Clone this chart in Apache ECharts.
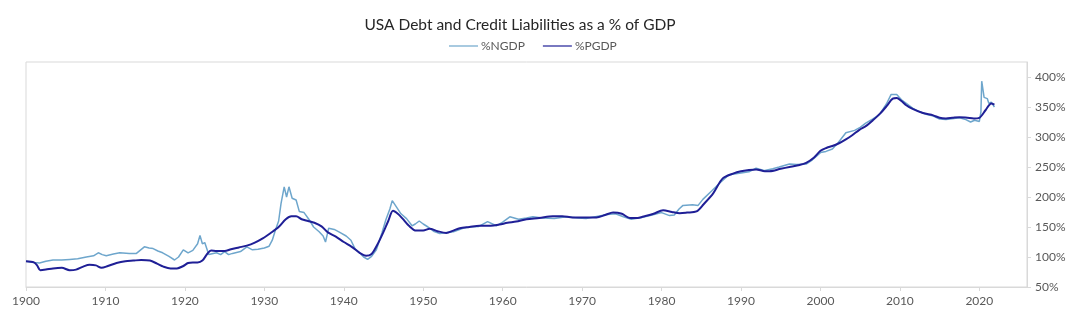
<!DOCTYPE html>
<html>
<head>
<meta charset="utf-8">
<title>USA Debt and Credit Liabilities as a % of GDP</title>
<script src="https://cdn.jsdelivr.net/npm/echarts@6/dist/echarts.min.js"></script>
<style>
  html, body { margin: 0; padding: 0; background: #fff; }
  #chart { width: 1080px; height: 330px; }
</style>
</head>
<body>
<div id="chart"></div>
<script>
// Total debt and credit liabilities relative to nominal GDP (%NGDP)
const ngdpYears = [
  1900.0, 1901.0, 1901.7, 1902.5, 1903.4, 1904.5, 1905.5, 1906.5, 1907.6, 1908.5,
  1909.1, 1909.6, 1910.1, 1911.0, 1911.8, 1913.0, 1913.9, 1914.9, 1915.5, 1916.0,
  1916.6, 1917.2, 1918.0, 1918.7, 1919.2, 1919.8, 1920.4, 1921.0, 1921.6, 1921.9,
  1922.2, 1922.5, 1923.0, 1924.0, 1924.5, 1925.0, 1925.5, 1926.0, 1927.0, 1927.8,
  1928.5, 1929.2, 1930.0, 1930.6, 1931.0, 1931.4, 1931.8, 1932.1, 1932.5, 1932.8,
  1933.1, 1933.5, 1934.0, 1934.4, 1935.0, 1935.6, 1936.2, 1936.9, 1937.4, 1937.7,
  1938.1, 1938.8, 1939.5, 1940.3, 1940.9, 1941.4, 1941.9, 1942.5, 1943.0, 1943.5,
  1944.1, 1944.8, 1945.3, 1945.8, 1946.1, 1946.6, 1947.2, 1947.9, 1948.6, 1949.0,
  1949.5, 1950.0, 1950.6, 1951.3, 1952.1, 1953.0, 1953.8, 1955.0, 1955.8, 1957.0,
  1958.1, 1959.2, 1960.0, 1960.9, 1962.0, 1963.0, 1963.8, 1965.0, 1966.5, 1968.0,
  1969.5, 1970.5, 1972.0, 1973.2, 1974.2, 1975.2, 1976.2, 1977.5, 1978.8, 1980.0,
  1981.0, 1981.6, 1982.2, 1982.7, 1983.9, 1984.6, 1985.2, 1986.3, 1987.3, 1988.5,
  1990.0, 1991.0, 1991.9, 1993.0, 1994.0, 1994.8, 1996.1, 1997.0, 1998.2, 1999.0,
  2000.0, 2000.7, 2001.5, 2002.2, 2003.2, 2004.3, 2005.0, 2005.7, 2006.6, 2007.4,
  2008.3, 2008.9, 2009.6, 2010.2, 2010.8, 2011.6, 2012.5, 2013.3, 2014.2, 2015.0,
  2015.8, 2016.8, 2017.5, 2018.3, 2018.9, 2019.4, 2020.0, 2020.2, 2020.3, 2020.5,
  2020.6, 2021.0, 2021.2, 2021.5, 2021.9
];
const ngdpValues = [
  93, 91, 90, 93, 95, 95, 96, 97, 100, 102,
  107, 104, 102, 105, 107, 106, 106, 117, 115, 114,
  110, 107, 101, 95, 100, 112, 107, 111, 122, 136,
  122, 124, 104, 107, 104, 109, 104, 106, 109, 117,
  112, 113, 115, 118, 128, 145, 160, 189, 217, 200,
  217, 198, 195, 176, 174, 163, 150, 142, 135, 125,
  148, 146, 141, 135, 128, 114, 108, 100, 96, 101,
  112, 140, 162, 180, 194, 184, 172, 164, 152, 155,
  160, 155, 150, 143, 139, 141, 142, 148, 150, 151,
  159, 152, 158, 167, 163, 165, 167, 165, 164, 167,
  165, 164, 168, 171, 172, 167, 163, 166, 170, 174,
  169, 170, 180, 186, 187, 186, 196, 210, 223, 237,
  240, 242, 248, 244, 247, 250, 255, 254, 255, 262,
  274, 276, 280, 290, 307, 311, 316, 323, 330, 337,
  355, 371, 371, 362, 356, 348, 342, 338, 335, 330,
  329, 331, 332, 329, 325, 328, 326, 342, 393, 393,
  366, 364, 356, 358, 350
];

// Total debt and credit liabilities relative to potential GDP (%PGDP)
const pgdpYears = [
  1900.0, 1901.0, 1901.4, 1901.8, 1902.5, 1903.4, 1904.5, 1905.5, 1906.3, 1907.2,
  1908.0, 1908.8, 1909.5, 1910.3, 1911.4, 1912.5, 1913.5, 1914.5, 1915.6, 1916.5,
  1917.3, 1918.2, 1919.0, 1919.8, 1920.4, 1921.0, 1921.6, 1922.2, 1922.8, 1923.3,
  1924.0, 1925.0, 1925.8, 1926.8, 1927.8, 1928.8, 1929.8, 1930.8, 1931.8, 1932.7,
  1933.4, 1934.0, 1934.7, 1935.5, 1936.3, 1937.2, 1938.0, 1939.0, 1940.0, 1941.0,
  1942.0, 1942.8, 1943.5, 1944.2, 1944.9, 1945.6, 1946.2, 1946.8, 1947.4, 1948.2,
  1949.1, 1950.0, 1950.8, 1951.8, 1952.9, 1953.8, 1954.6, 1955.8, 1957.1, 1958.5,
  1959.6, 1960.6, 1961.7, 1963.0, 1964.6, 1966.3, 1967.5, 1968.8, 1970.3, 1971.8,
  1972.9, 1973.9, 1975.0, 1976.0, 1977.0, 1977.6, 1979.0, 1980.2, 1981.3, 1982.3,
  1983.2, 1984.4, 1985.3, 1986.5, 1987.7, 1989.0, 1990.0, 1991.0, 1991.9, 1993.0,
  1993.6, 1995.0, 1996.1, 1997.2, 1998.2, 1999.2, 2000.0, 2000.8, 2001.5, 2002.4,
  2003.2, 2004.0, 2004.9, 2005.8, 2006.6, 2007.5, 2008.3, 2009.1, 2009.6, 2010.2,
  2010.8, 2011.6, 2012.9, 2014.2, 2015.0, 2015.8, 2016.6, 2017.5, 2018.5, 2019.3,
  2020.0, 2020.8, 2021.5, 2021.9
];
const pgdpValues = [
  93, 91, 86, 78, 79, 81, 82, 78, 79, 84,
  87, 86, 82, 85, 90, 93, 94, 95, 94, 89,
  84, 81, 81, 85, 90, 91, 91, 94, 105, 111,
  110, 110, 113, 116, 119, 124, 131, 140, 150, 163,
  168, 168, 163, 160, 157, 151, 141, 134, 125, 117,
  107, 102, 105, 120, 139, 160, 177, 172, 164, 152,
  144, 144, 147, 143, 140, 144, 148, 150, 152, 152,
  154, 157, 159, 163, 165, 168, 168, 166, 166, 166,
  170, 174, 172, 165, 165, 167, 172, 178, 175, 173,
  174, 176, 188, 206, 231, 239, 243, 245, 246, 243,
  243, 247, 250, 253, 257, 266, 277, 282, 285, 290,
  296, 303, 312, 319, 328, 339, 351, 364, 365, 360,
  353, 347, 340, 336, 332, 331, 332, 333, 332, 331,
  332, 345, 356, 354
];

// Axis ticks: decades along the bottom, percentages on the right
const yearTicks = [1900, 1910, 1920, 1930, 1940, 1950, 1960, 1970, 1980, 1990, 2000, 2010, 2020];
const percentTicks = [50, 100, 150, 200, 250, 300, 350, 400];

const pair = (xs, ys) => xs.map((x, i) => [x, ys[i]]);

const chart = echarts.init(document.getElementById('chart'), null, { renderer: 'canvas' });
const font = 'Lato, "Noto Sans", sans-serif';
const axisColor = '#d9d9d9';
const labelColor = '#595959';

chart.setOption({
  animation: false,
  backgroundColor: '#ffffff',
  textStyle: { fontFamily: font },
  title: {
    text: 'USA Debt and Credit Liabilities as a % of GDP',
    left: 515,
    textAlign: 'center',
    top: 12,
    textStyle: { fontFamily: font, fontSize: 15.5, fontWeight: 'normal', color: '#262626' }
  },
  legend: {
    top: 35,
    left: 444,
    itemWidth: 29,
    itemHeight: 10,
    itemGap: 18,
    icon: 'path://M0,4.4L29,4.4L29,5.6L0,5.6Z',
    textStyle: { fontFamily: font, fontSize: 12, color: labelColor, padding: [0, 0, 0, -2] },
    data: ['%NGDP', '%PGDP']
  },
  grid: {
    left: 26,
    right: 53,
    top: 62,
    bottom: 43,
    show: true,
    borderColor: axisColor,
    borderWidth: 1,
    containLabel: false
  },
  xAxis: {
    type: 'value',
    min: 1900,
    max: 2026,
    interval: 10,
    axisLine: { show: true, lineStyle: { color: axisColor } },
    axisTick: { show: true, length: 4, lineStyle: { color: axisColor }, customValues: yearTicks },
    axisLabel: {
      color: labelColor, fontSize: 12, margin: 8, fontFamily: font,
      customValues: yearTicks,
      formatter: (v) => String(Math.round(v))
    },
    splitLine: { show: false }
  },
  yAxis: {
    type: 'value',
    position: 'right',
    min: 50,
    max: 425,
    interval: 50,
    axisLine: { show: true, lineStyle: { color: axisColor } },
    axisTick: { show: true, length: 4, lineStyle: { color: axisColor }, customValues: percentTicks },
    axisLabel: {
      color: labelColor, fontSize: 12, margin: 8, fontFamily: font,
      customValues: percentTicks,
      formatter: (v) => Math.round(v) + '%'
    },
    splitLine: { show: false }
  },
  series: [
    {
      name: '%NGDP',
      type: 'line',
      data: pair(ngdpYears, ngdpValues),
      showSymbol: false,
      symbol: 'none',
      lineStyle: { color: '#6ea6cc', width: 1.5 },
      itemStyle: { color: '#6ea6cc' },
      z: 2
    },
    {
      name: '%PGDP',
      type: 'line',
      data: pair(pgdpYears, pgdpValues),
      showSymbol: false,
      symbol: 'none',
      smooth: 0.3,
      lineStyle: { color: '#1f1f96', width: 2 },
      itemStyle: { color: '#1f1f96' },
      z: 3
    }
  ]
});
</script>
</body>
</html>
